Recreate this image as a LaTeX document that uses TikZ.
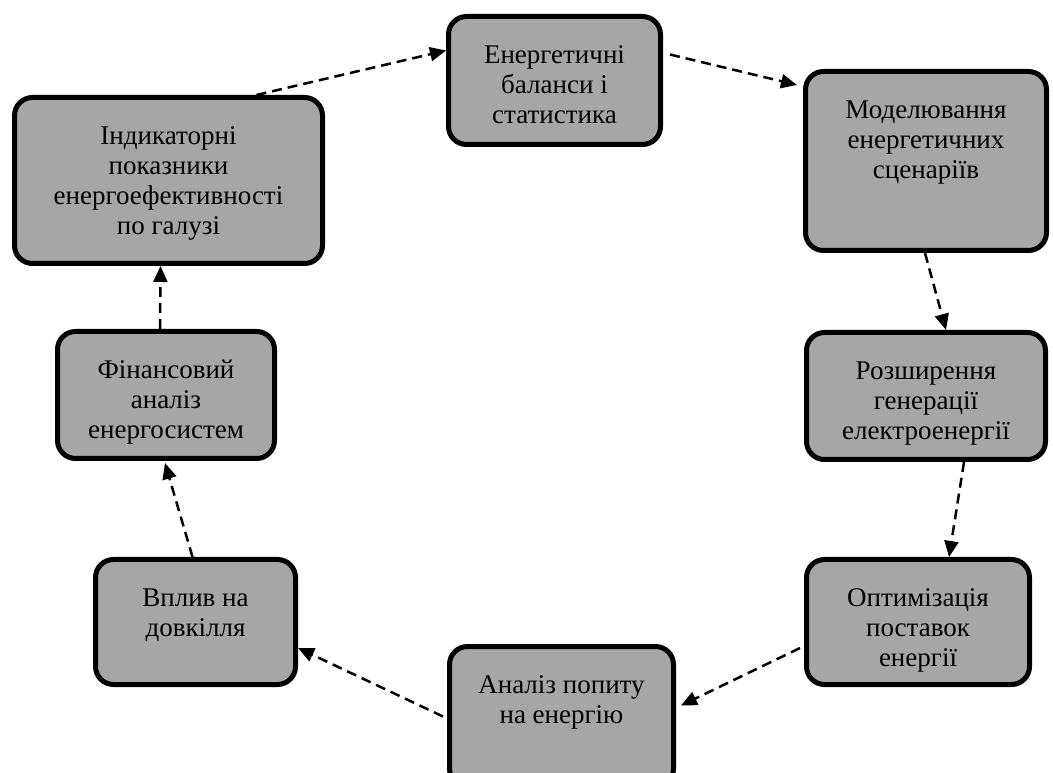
\documentclass[tikz,border=0pt]{standalone}
\usepackage{fontspec}
\setmainfont{Liberation Serif}
\usetikzlibrary{arrows.meta}
\definecolor{boxgray}{RGB}{166,166,166}
\begin{document}
\begin{tikzpicture}[x=1pt,y=1pt,
  stagebox/.style={draw=black, line width=5pt, fill=boxgray, rounded corners=18pt,
    inner sep=0pt},
  stagetext/.style={anchor=north, align=center, inner sep=0pt,
    font={\fontsize{27}{30}\selectfont}, yshift=-28pt},
  flow/.style={line width=2.5pt, dash pattern=on 10pt off 6pt,
    -{Triangle[length=16pt,width=14pt]}}]
\useasboundingbox (0,0) rectangle (1053,772);
\clip (0,0) rectangle (1053,772);

% stages of the cycle
\node[stagebox, minimum width=212pt, minimum height=128pt] (b1) at (554.5,691.5) {};
\node[stagebox, minimum width=241pt, minimum height=179pt] (b2) at (926,611) {};
\node[stagebox, minimum width=239pt, minimum height=127pt] (b3) at (926,376) {};
\node[stagebox, minimum width=223pt, minimum height=125pt] (b4) at (918,150) {};
\node[stagebox, minimum width=224pt, minimum height=140pt] (b5) at (561.5,55.5) {};
\node[stagebox, minimum width=200pt, minimum height=125pt] (b6) at (195.5,150) {};
\node[stagebox, minimum width=217pt, minimum height=127pt] (b7) at (166,377) {};
\node[stagebox, minimum width=308pt, minimum height=166pt] (b8) at (168.5,591.5) {};

% labels, set from the top of each box
\node[stagetext] (t1) at (b1.north) {\strut Енергетичні\\баланси і\\статистика};
\node[stagetext] (t2) at (b2.north) {\strut Моделювання\\енергетичних\\сценаріїв};
\node[stagetext] (t3) at (b3.north) {\strut Розширення\\генерації\\електроенергії};
\node[stagetext] (t4) at (b4.north) {\strut Оптимізація\\поставок\\енергії};
\node[stagetext] (t5) at (b5.north) {\strut Аналіз попиту\\на енергію};
\node[stagetext] (t6) at (b6.north) {\strut Вплив на\\довкілля};
\node[stagetext] (t7) at (b7.north) {\strut Фінансовий\\аналіз\\енергосистем};
\node[stagetext] (t8) at (b8.north) {\strut Індикаторні\\показники\\енергоефективності\\по галузі};

% dashed arrows around the cycle
\draw[flow] ([xshift=88pt]b8.north) -- ([yshift=30pt]b1.west);
\draw[flow] ([xshift=7pt,yshift=26pt]b1.east) -- ([xshift=-6pt,yshift=-16pt]b2.north west);
\draw[flow] ([xshift=-1pt]b2.south) -- ([xshift=20pt]b3.north);
\draw[flow] ([xshift=38pt]b3.south) -- ([xshift=31pt]b4.north);
\draw[flow] ([xshift=-4pt,yshift=-26pt]b4.west) -- ([xshift=5pt,yshift=11pt]b5.east);
\draw[flow] ([xshift=-4pt]b5.west) -- ([yshift=-26pt]b6.east);
\draw[flow] ([xshift=-3pt]b6.north) -- ([xshift=-1pt,yshift=-2pt]b7.south);
\draw[flow] ([xshift=-6pt]b7.north) -- ([xshift=-8pt]b8.south);
\end{tikzpicture}
\end{document}
